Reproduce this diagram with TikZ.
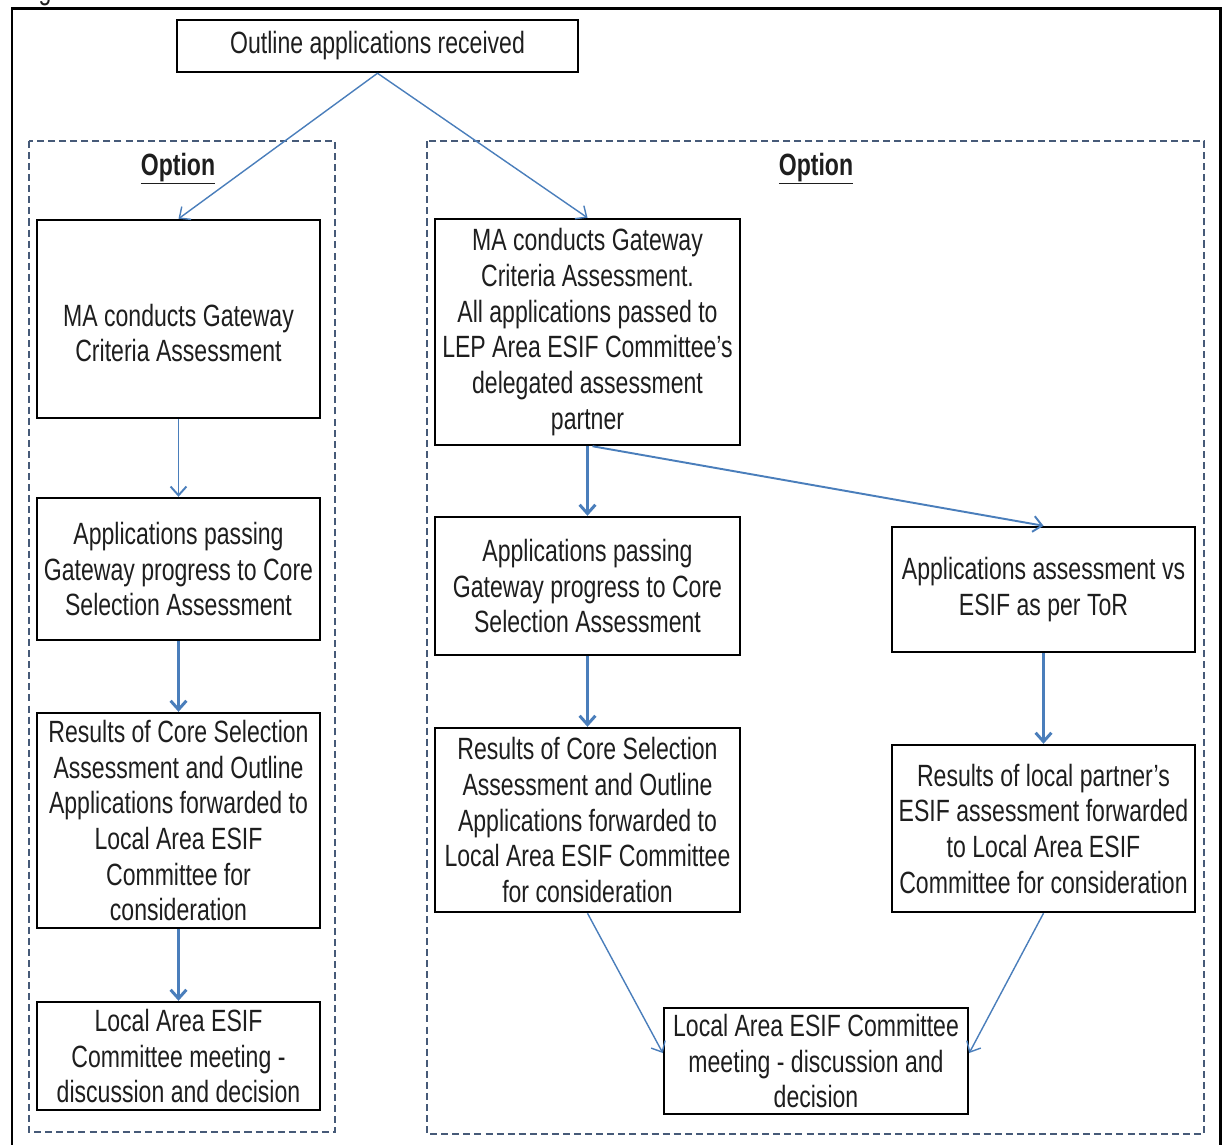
\documentclass[tikz,border=0pt]{standalone}
\usepackage{fontspec}
\setmainfont{Liberation Sans}[FakeStretch=0.75]
\usetikzlibrary{arrows.meta,calc}

\definecolor{arrowblue}{HTML}{4A7EBB}
\definecolor{framegray}{HTML}{465A78}
\definecolor{inkgray}{HTML}{1E1E1E}
\newcommand{\pxu}{0.02cm}

\begin{document}
\begin{tikzpicture}[x=\pxu, y=-\pxu,
  stepfont/.style={font=\fontsize{17.5}{20.3}\selectfont},
  stepbox/.style={draw=black, line width=1.4pt, fill=white, inner sep=0pt,
    align=center, text=inkgray, stepfont},
  steptext/.style={inner sep=0pt, align=center, text=inkgray, stepfont},
  boxsize/.style 2 args={minimum width=#1*\pxu, minimum height=#2*\pxu},
  optframe/.style={draw=framegray, line width=1.2pt, dash pattern=on 4pt off 2.3pt},
  optlabel/.style={font=\bfseries\fontsize{17.5}{20.3}\selectfont, text=inkgray},
  flow/.style={draw=arrowblue, -{Straight Barb[length=5pt,width=9pt]}},
  thinflow/.style={flow, line width=0.8pt},
  midflow/.style={flow, line width=1.1pt},
  thickflow/.style={flow, line width=1.7pt}]

\useasboundingbox (0,0) rectangle (1224,1144);
\clip (0,0) rectangle (1224,1144);

% page caption, cut by the top edge
\node[anchor=base west, stepfont, text=inkgray, inner sep=0pt] (caption) at (19,-1) {Figure};

% outer frame, running past the lower edge
\draw[line width=1.7pt] (12,1170) -- (12,8) -- (1220,8) -- (1220,1170);

% the two option frames
\draw[optframe] (29,141) rectangle (335,1132);
\draw[optframe] (427,141) rectangle (1204,1134);
\node[optlabel, anchor=base] (optL) at (178,175) {\underline{Option}};
\node[optlabel, anchor=base] (optR) at (816,175) {\underline{Option}};

% start
\node[stepbox, boxsize={401}{52}] (top) at (377.5,46) {Outline applications received};

% left option
\node[stepbox, boxsize={283}{198}] (L1) at (178.5,319) {};
\node[steptext] (L1text) at (178.5,333) {MA conducts Gateway\\Criteria Assessment};
\node[stepbox, boxsize={283}{142}] (L2) at (178.5,569) {Applications passing\\Gateway progress to Core\\Selection Assessment};
\node[stepbox, boxsize={283}{215}] (L3) at (178.5,820.5) {Results of Core Selection\\Assessment and Outline\\Applications forwarded to\\Local Area ESIF\\Committee for\\consideration};
\node[stepbox, boxsize={283}{108}] (L4) at (178.5,1056) {Local Area ESIF\\Committee meeting -\\discussion and decision};

% right option
\node[stepbox, boxsize={305}{226}] (R1) at (587.5,332) {MA conducts Gateway\\Criteria Assessment.\\All applications passed to\\LEP Area ESIF Committee's\\delegated assessment\\partner};
\node[stepbox, boxsize={305}{138}] (R2) at (587.5,586) {Applications passing\\Gateway progress to Core\\Selection Assessment};
\node[stepbox, boxsize={305}{184}] (R3) at (587.5,820) {Results of Core Selection\\Assessment and Outline\\Applications forwarded to\\Local Area ESIF Committee\\for consideration};
\node[stepbox, boxsize={303}{125}] (S1) at (1043.5,589.5) {Applications assessment vs\\ESIF as per ToR};
\node[stepbox, boxsize={303}{167}] (S2) at (1043.5,828.5) {Results of local partner's\\ESIF assessment forwarded\\to Local Area ESIF\\Committee for consideration};
\node[stepbox, boxsize={304}{106}] (B) at (816,1061) {Local Area ESIF Committee\\meeting - discussion and\\decision};

% connectors
\draw[thinflow] (top.south) -- (L1.north);
\draw[thinflow] (top.south) -- (R1.north);
\draw[midflow] (L1.south) -- (L2.north);
\draw[thickflow] (L2.south) -- (L3.north);
\draw[thickflow] (L3.south) -- (L4.north);
\draw[thickflow] (R1.south) -- (R2.north);
\draw[midflow] ([xshift=5*\pxu]R1.south) -- (S1.north);
\draw[thickflow] (R2.south) -- (R3.north);
\draw[thickflow] (S1.south) -- (S2.north);
\draw[thinflow] (R3.south) -- ($(B.west)+(0,-8)$);
\draw[thinflow] (S2.south) -- ($(B.east)+(0,-8)$);
\end{tikzpicture}
\end{document}
